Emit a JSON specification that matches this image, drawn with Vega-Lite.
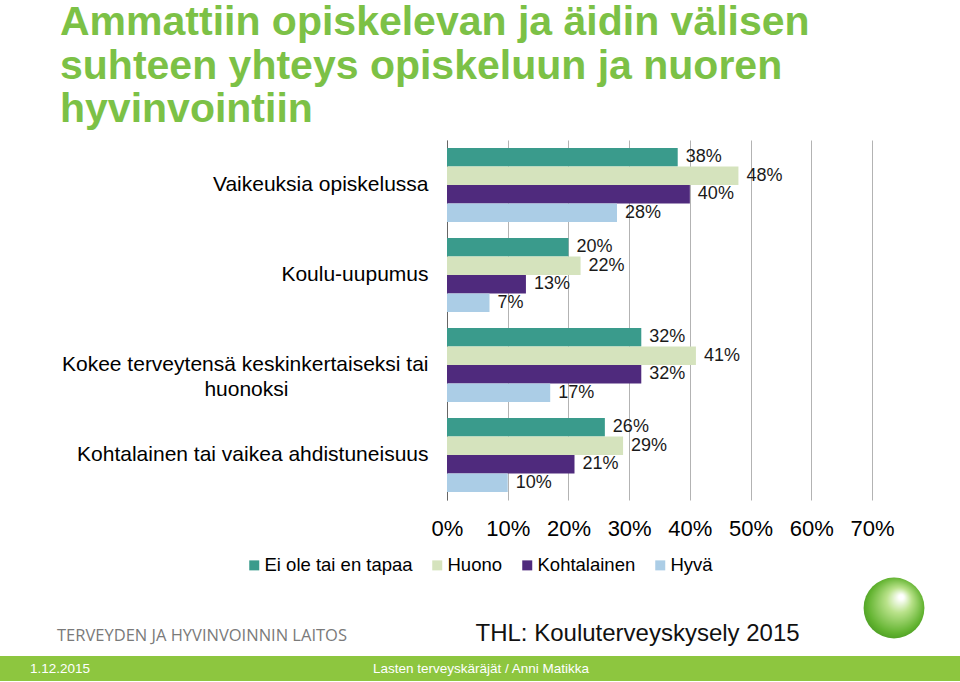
{
  "$schema": "https://vega.github.io/schema/vega-lite/v6.json",
  "padding": {"top": 2, "left": 0, "right": 0, "bottom": 0},
  "background": "white",
  "spacing": 0,
  "title": {
    "text": ["Ammattiin opiskelevan ja äidin välisen", "suhteen yhteys opiskeluun ja nuoren", "hyvinvointiin"],
    "anchor": "start",
    "frame": "group",
    "dx": 60,
    "font": "Liberation Sans",
    "fontSize": 41,
    "fontWeight": "bold",
    "lineHeight": 43.5,
    "color": "#7cc146",
    "offset": 9
  },
  "config": {
    "font": "Liberation Sans",
    "view": {"stroke": null}
  },
  "resolve": {"legend": {"color": "independent"}, "scale": {"x": "independent", "y": "independent"}},
  "vconcat": [
    {
      "width": 960,
      "height": 360,
      "data": {
        "values": [
          {"kysymys": "Vaikeuksia opiskelussa", "vastaus": "Ei ole tai en tapaa", "osuus": 0.38},
          {"kysymys": "Vaikeuksia opiskelussa", "vastaus": "Huono", "osuus": 0.48},
          {"kysymys": "Vaikeuksia opiskelussa", "vastaus": "Kohtalainen", "osuus": 0.40},
          {"kysymys": "Vaikeuksia opiskelussa", "vastaus": "Hyvä", "osuus": 0.28},
          {"kysymys": "Koulu-uupumus", "vastaus": "Ei ole tai en tapaa", "osuus": 0.20},
          {"kysymys": "Koulu-uupumus", "vastaus": "Huono", "osuus": 0.22},
          {"kysymys": "Koulu-uupumus", "vastaus": "Kohtalainen", "osuus": 0.13},
          {"kysymys": "Koulu-uupumus", "vastaus": "Hyvä", "osuus": 0.07},
          {"kysymys": "Kokee terveytensä keskinkertaiseksi tai huonoksi", "vastaus": "Ei ole tai en tapaa", "osuus": 0.32},
          {"kysymys": "Kokee terveytensä keskinkertaiseksi tai huonoksi", "vastaus": "Huono", "osuus": 0.41},
          {"kysymys": "Kokee terveytensä keskinkertaiseksi tai huonoksi", "vastaus": "Kohtalainen", "osuus": 0.32},
          {"kysymys": "Kokee terveytensä keskinkertaiseksi tai huonoksi", "vastaus": "Hyvä", "osuus": 0.17},
          {"kysymys": "Kohtalainen tai vaikea ahdistuneisuus", "vastaus": "Ei ole tai en tapaa", "osuus": 0.26},
          {"kysymys": "Kohtalainen tai vaikea ahdistuneisuus", "vastaus": "Huono", "osuus": 0.29},
          {"kysymys": "Kohtalainen tai vaikea ahdistuneisuus", "vastaus": "Kohtalainen", "osuus": 0.21},
          {"kysymys": "Kohtalainen tai vaikea ahdistuneisuus", "vastaus": "Hyvä", "osuus": 0.10}
        ]
      },
      "encoding": {
        "y": {
          "field": "kysymys",
          "type": "nominal",
          "sort": ["Vaikeuksia opiskelussa", "Koulu-uupumus", "Kokee terveytensä keskinkertaiseksi tai huonoksi", "Kohtalainen tai vaikea ahdistuneisuus"],
          "scale": {"paddingInner": 0.18, "paddingOuter": 0.09},
          "axis": {
            "title": null,
            "offset": -447,
            "labelFont": "Liberation Sans",
            "labelFontSize": 21,
            "labelColor": "#000000",
            "labelLimit": 0,
            "labelPadding": 19,
            "ticks": false,
            "tickSize": 0,
            "domain": true,
            "domainColor": "#666666",
            "domainWidth": 1,
            "grid": false,
            "labelLineHeight": 25,
            "labelExpr": "datum.value == 'Kokee terveytensä keskinkertaiseksi tai huonoksi' ? ['Kokee terveytensä keskinkertaiseksi tai', 'huonoksi\u00a0\u00a0\u00a0\u00a0\u00a0\u00a0\u00a0\u00a0\u00a0\u00a0\u00a0\u00a0\u00a0\u00a0\u00a0\u00a0\u00a0\u00a0\u00a0\u00a0\u00a0\u00a0\u00a0\u00a0\u200b'] : datum.value"
          }
        },
        "yOffset": {
          "field": "vastaus",
          "type": "nominal",
          "sort": ["Ei ole tai en tapaa", "Huono", "Kohtalainen", "Hyvä"]
        },
        "x": {
          "field": "osuus",
          "type": "quantitative",
          "scale": {"domain": [0, 0.7], "nice": false, "range": [447, 872]},
          "axis": {
            "title": null,
            "format": ".0%",
            "values": [0, 0.1, 0.2, 0.3, 0.4, 0.5, 0.6, 0.7],
            "labelFont": "Liberation Sans",
            "labelFontSize": 22,
            "labelColor": "#000000",
            "labelPadding": 18,
            "labelFlush": false,
            "ticks": false,
            "domain": false,
            "grid": true,
            "gridColor": "#b3b3b3",
            "gridWidth": 1
          }
        }
      },
      "layer": [
        {
          "mark": {"type": "bar"},
          "encoding": {
            "color": {
              "field": "vastaus",
              "type": "nominal",
              "scale": {
                "domain": ["Ei ole tai en tapaa", "Huono", "Kohtalainen", "Hyvä"],
                "range": ["#3a9b8c", "#d5e3bd", "#4f2a7d", "#abcde6"]
              },
              "legend": {
                "title": null,
                "orient": "none",
                "legendX": 245,
                "legendY": 416,
                "direction": "horizontal",
                "symbolType": "square",
                "symbolSize": 100,
                "symbolStrokeWidth": 0,
                "labelFont": "Liberation Sans",
                "labelFontSize": 18.5,
                "labelColor": "#000000",
                "labelOffset": 1,
                "columnPadding": 15,
                "labelLimit": 0
              }
            }
          }
        },
        {
          "mark": {"type": "text", "align": "left", "baseline": "middle", "dx": 8, "font": "Liberation Sans", "fontSize": 18, "color": "#1a1a1a"},
          "encoding": {
            "text": {"field": "osuus", "type": "quantitative", "format": ".0%"}
          }
        }
      ]
    },
    {
      "width": 960,
      "height": 81,
      "data": {
        "values": [
          {"teksti": "TERVEYDEN JA HYVINVOINNIN LAITOS", "paikka": "vasen", "rivi": "teksti"},
          {"teksti": "THL: Kouluterveyskysely 2015", "paikka": "keski", "rivi": "teksti"},
          {"teksti": "", "paikka": "oikea", "rivi": "logo"}
        ]
      },
      "encoding": {
        "x": {"field": "paikka", "type": "nominal", "sort": ["vasen", "keski", "oikea"], "scale": {"type": "point", "range": [57, 894], "padding": 0}, "axis": null},
        "y": {"field": "rivi", "type": "nominal", "sort": ["logo", "teksti"], "scale": {"type": "point", "range": [33, 66], "padding": 0}, "axis": null}
      },
      "layer": [
        {
          "transform": [{"filter": "datum.paikka == 'vasen'"}],
          "mark": {"type": "text", "align": "left", "baseline": "alphabetic", "font": "Open Sans", "fontSize": 16.5, "color": "#7a7a7a"},
          "encoding": {"text": {"field": "teksti"}}
        },
        {
          "transform": [{"filter": "datum.paikka == 'keski'"}],
          "mark": {"type": "text", "align": "left", "baseline": "alphabetic", "font": "Liberation Sans", "fontSize": 24, "color": "#111111"},
          "encoding": {"text": {"field": "teksti"}}
        },
        {
          "transform": [{"filter": "datum.paikka == 'oikea'"}],
          "mark": {
            "type": "point",
            "shape": "circle",
            "filled": true,
            "size": 3700,
            "opacity": 1,
            "color": {
              "gradient": "radial",
              "x1": 0.62, "y1": 0.32, "r1": 0.04,
              "x2": 0.5, "y2": 0.5, "r2": 0.6,
              "stops": [
                {"offset": 0, "color": "#ffffff"},
                {"offset": 0.3, "color": "#b9e28a"},
                {"offset": 0.75, "color": "#62b330"},
                {"offset": 1, "color": "#3f8f1c"}
              ]
            }
          }
        }
      ]
    },
    {
      "width": 960,
      "height": 25,
      "view": {"fill": "#8dc63f", "stroke": null},
      "data": {
        "values": [
          {"teksti": "1.12.2015", "paikka": "pvm"},
          {"teksti": "Lasten terveyskäräjät / Anni Matikka", "paikka": "tekija"}
        ]
      },
      "mark": {"type": "text", "align": "left", "baseline": "middle", "font": "Liberation Sans", "fontSize": 13.5, "color": "#ffffff"},
      "encoding": {
        "x": {"field": "paikka", "type": "nominal", "sort": ["pvm", "tekija"], "scale": {"type": "point", "range": [30, 373], "padding": 0}, "axis": null},
        "text": {"field": "teksti"}
      }
    }
  ]
}
